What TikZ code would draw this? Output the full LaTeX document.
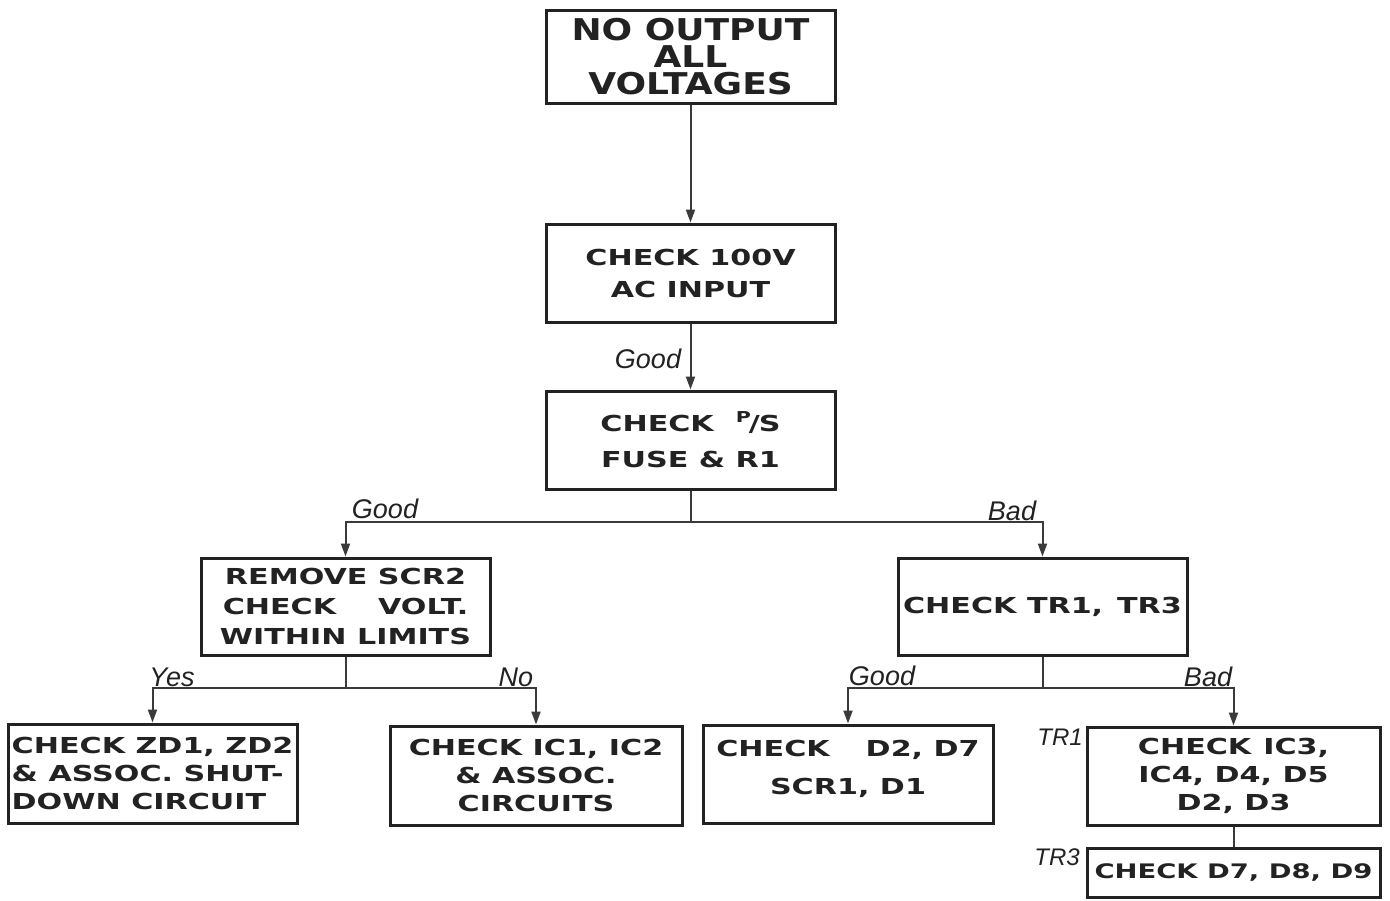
\documentclass[tikz,border=0pt]{standalone}
\usepackage{fontspec}
\usetikzlibrary{arrows.meta}
\newfontfamily\boxfont[FakeStretch=1.37]{DejaVu Sans}
\newfontfamily\titlefont[FakeStretch=1.2]{DejaVu Sans}
\newfontfamily\lblfont{Liberation Sans}
\definecolor{ink}{HTML}{222222}
\definecolor{wire}{HTML}{3A3A3A}
\tikzset{
  box/.style={draw=ink, line width=3pt, fill=white, minimum width=289pt, minimum height=98pt,
    inner sep=3pt, align=center, text=ink, font=\boxfont\bfseries\fontsize{22}{30}\selectfont},
  wirestyle/.style={draw=wire, line width=2pt},
  arr/.style={wirestyle, -{Triangle[width=9pt,length=13pt]}},
  lbl/.style={anchor=base, text=ink, inner sep=0pt, font=\lblfont\itshape\fontsize{27}{27}\selectfont}
}
\begin{document}
\begin{tikzpicture}[x=1pt,y=-1pt]
\useasboundingbox (0,0) rectangle (1390,900);
% boxes
\node[box, minimum height=93pt, font=\titlefont\bfseries\fontsize{30}{27}\selectfont] (b1) at (690.5,56.5) {NO OUTPUT\\ALL\\VOLTAGES};
\node[box, font=\boxfont\bfseries\fontsize{22}{32}\selectfont] (b2) at (690.5,273) {CHECK 100V\\AC INPUT};
\node[box, font=\boxfont\bfseries\fontsize{22}{36}\selectfont] (b3) at (690.5,440) {CHECK\hspace{22pt}\raisebox{9pt}{\fontsize{15}{15}\selectfont P}\kern-2pt/\kern-1pt S\\FUSE \& R1};
\node[box, minimum height=97pt] (b4) at (345.5,606.5) {REMOVE SCR2\\CHECK\hspace{42pt}VOLT.\\WITHIN LIMITS};
\node[box, minimum height=97pt] (b5) at (1042.5,606.5) {CHECK TR1,\hspace{14pt}TR3};
\node[box, minimum height=99pt, align=left, font=\boxfont\bfseries\fontsize{22}{28}\selectfont] (b6) at (152.5,773.5) {CHECK ZD1, ZD2\\\& ASSOC. SHUT-\\DOWN CIRCUIT};
\node[box, minimum width=292pt, minimum height=99pt, font=\boxfont\bfseries\fontsize{22}{28}\selectfont] (b7) at (536,775.5) {CHECK IC1, IC2\\\& ASSOC.\\CIRCUITS};
\node[box, minimum width=290pt, font=\boxfont\bfseries\fontsize{22}{38}\selectfont] (b8) at (848,774) {CHECK\hspace{36pt}D2, D7\\SCR1, D1\\[-24pt]};
\node[box, minimum width=293pt, font=\boxfont\bfseries\fontsize{22}{28}\selectfont] (b9) at (1233.5,776) {CHECK\hspace{12pt}IC3,\\IC4, D4, D5\\D2, D3};
\node[box, minimum width=293pt, minimum height=49pt, font=\boxfont\bfseries\fontsize{20}{24}\selectfont] (b10) at (1233.5,872.5) {CHECK D7, D8, D9};
% junctions
\coordinate (j1) at (690.5,522);
\coordinate (j2) at (345.5,688);
\coordinate (j3) at (1042.5,688);
% connectors
\draw[arr] (b1.south) -- (b2.north);
\draw[arr] (b2.south) -- (b3.north);
\draw[wirestyle] (b3.south) -- (j1);
\draw[arr] (j1) -| (b4.north);
\draw[arr] (j1) -| (b5.north);
\draw[wirestyle] (b4.south) -- (j2);
\draw[arr] (j2) -| (b6.north);
\draw[arr] (j2) -| (b7.north);
\draw[wirestyle] (b5.south) -- (j3);
\draw[arr] (j3) -| (b8.north);
\draw[arr] (j3) -| (b9.north);
\draw[wirestyle] (b9.south) -- (b10.north);
% labels
\node[lbl] (l1) at (648,368) {Good};
\node[lbl] (l2) at (385,518) {Good};
\node[lbl] (l3) at (1012,520) {Bad};
\node[lbl] (l4) at (172,686) {Yes};
\node[lbl] (l5) at (516,686) {No};
\node[lbl] (l6) at (882,685) {Good};
\node[lbl] (l7) at (1208,686) {Bad};
\node[lbl, font=\lblfont\itshape\fontsize{24}{24}\selectfont] (l8) at (1060,745) {TR1};
\node[lbl, font=\lblfont\itshape\fontsize{24}{24}\selectfont] (l9) at (1057,865) {TR3};
\end{tikzpicture}
\end{document}
